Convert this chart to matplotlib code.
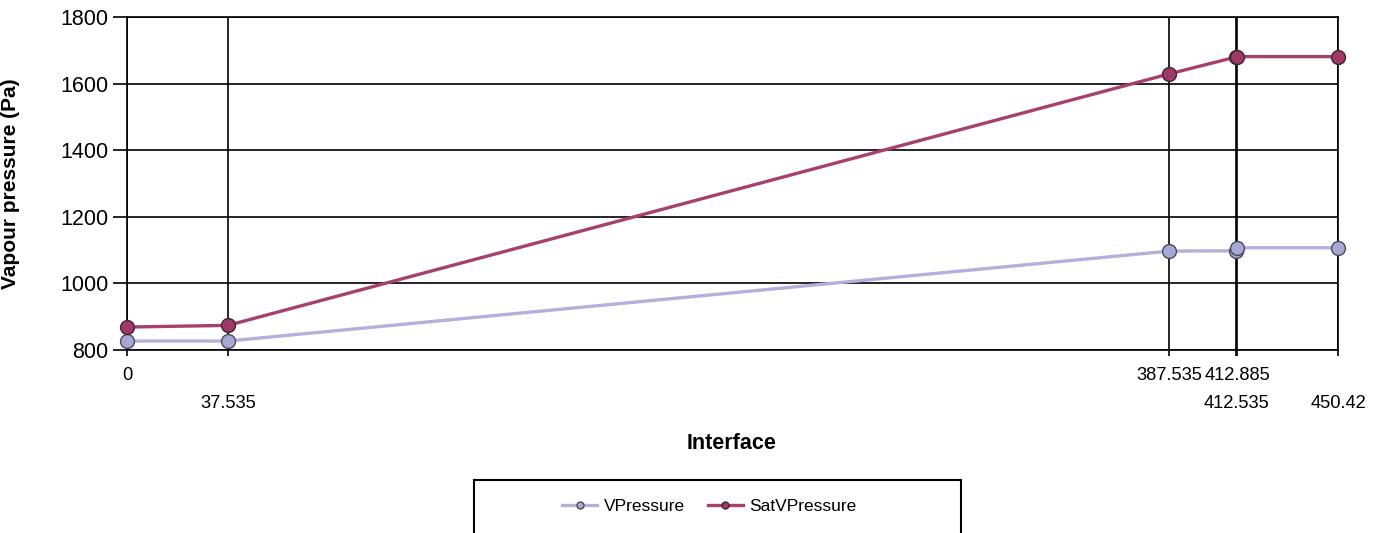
import matplotlib
matplotlib.use('Agg')
import matplotlib.pyplot as plt
from matplotlib.patches import Rectangle

plt.rcParams['font.family'] = ['Liberation Sans', 'DejaVu Sans']

# data
interface = [0, 37.535, 387.535, 412.535, 412.885, 450.42]
tick_labels = ['0', '\n37.535', '387.535', '\n412.535', '412.885', '\n450.42']
vpressure = [827, 827, 1097, 1098, 1107, 1107]
satvpressure = [869, 874, 1629, 1680, 1681, 1681]
yticks = [800, 1000, 1200, 1400, 1600, 1800]

fig = plt.figure(figsize=(13.86, 5.33), dpi=100)
ax = fig.add_axes([0.0916, 0.3433, 0.8738, 0.6248])

ax.plot(interface, vpressure, color='#b3b0dc', lw=2.4, marker='o', ms=10,
        mfc='#a8a8d6', mec='#4a4a5a', mew=1.0, label='VPressure', zorder=3, clip_on=False)
ax.plot(interface, satvpressure, color='#a8406e', lw=2.4, marker='o', ms=10,
        mfc='#a03868', mec='#3a2a30', mew=1.0, label='SatVPressure', zorder=4, clip_on=False)

ax.set_xlim(0, 450.42)
ax.set_ylim(800, 1800)
ax.set_xticks(interface)
ax.set_xticklabels(tick_labels, fontsize=13.2, linespacing=1.8)
ax.set_yticks(yticks)
ax.set_yticklabels([str(v) for v in yticks], fontsize=15.5)
ax.grid(True, color='black', lw=1.2, zorder=1)
ax.set_axisbelow(True)
for s in ax.spines.values():
    s.set_linewidth(1.2)
ax.tick_params(axis='x', length=4.5, width=1.2, pad=8, colors='black')
ax.tick_params(axis='y', length=10, width=1.2, pad=3.5, colors='black')

ax.set_ylabel('Vapour pressure (Pa)', fontsize=15, fontweight='bold')
ax.yaxis.set_label_coords(-0.088, 0.5)
ax.set_xlabel('Interface', fontsize=15.5, fontweight='bold')
ax.xaxis.set_label_coords(0.4996, -0.25)

# legend box
fig.patches.append(Rectangle((0.342, -0.05), 0.3514, 0.1494, transform=fig.transFigure,
                             fill=False, ec='black', lw=1.5))
h, l = ax.get_legend_handles_labels()
leg = fig.legend(h, l, loc='center', bbox_to_anchor=(0.512, 0.049), ncol=2, frameon=False,
                 fontsize=12.5, handlelength=2.0, markerscale=0.5, columnspacing=1.3,
                 handletextpad=0.4)

fig.savefig('out.png', dpi=100)
